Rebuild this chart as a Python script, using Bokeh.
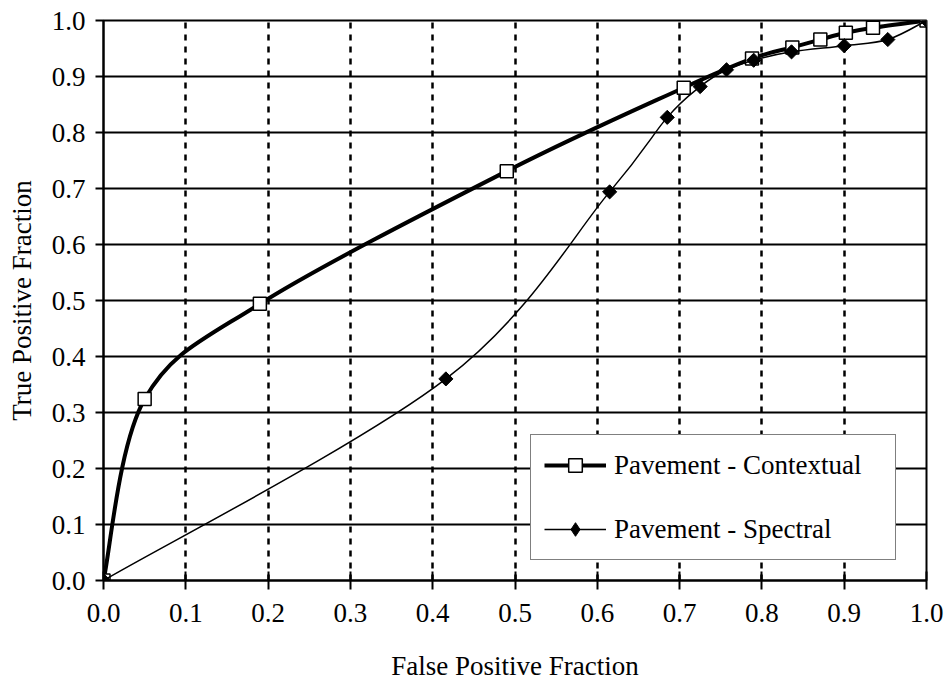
import numpy as np
from bokeh.plotting import figure
from bokeh.models import FixedTicker, NumeralTickFormatter, Legend, LegendItem, ColumnDataSource
from bokeh.embed import file_html
from bokeh.resources import INLINE

# Data
ctx_fp = [0.0, 0.050, 0.190, 0.490, 0.705, 0.788, 0.837, 0.871, 0.902, 0.935, 1.0]
ctx_tp = [0.0, 0.324, 0.494, 0.731, 0.880, 0.932, 0.952, 0.966, 0.978, 0.987, 1.0]
spc_fp = [0.0, 0.416, 0.615, 0.685, 0.725, 0.757, 0.790, 0.836, 0.900, 0.953, 1.0]
spc_tp = [0.0, 0.360, 0.694, 0.827, 0.882, 0.912, 0.929, 0.944, 0.955, 0.966, 1.0]
ticks = [round(i * 0.1, 1) for i in range(11)]

FONT = "'Liberation Serif', 'Times New Roman', serif"
FS = "27px"


def smooth_segments(xs, ys):
    """Bezier control points for a smoothed line through the points (Excel-like)."""
    x = np.asarray(xs, float)
    y = np.asarray(ys, float)
    n = len(x)
    xp = np.concatenate([[x[0]], x, [x[-1]]])
    yp = np.concatenate([[y[0]], y, [y[-1]]])
    d = dict(x0=[], y0=[], x1=[], y1=[], cx0=[], cy0=[], cx1=[], cy1=[])
    for i in range(n - 1):
        j = i + 1
        d["x0"].append(x[i]); d["y0"].append(y[i])
        d["x1"].append(x[i + 1]); d["y1"].append(y[i + 1])
        d["cx0"].append(x[i] + (xp[j + 1] - xp[j - 1]) / 6)
        d["cy0"].append(y[i] + (yp[j + 1] - yp[j - 1]) / 6)
        d["cx1"].append(x[i + 1] - (xp[j + 2] - xp[j]) / 6)
        d["cy1"].append(y[i + 1] - (yp[j + 2] - yp[j]) / 6)
    return ColumnDataSource(d)


p = figure(width=946, height=683, x_range=(0, 1), y_range=(0, 1),
           output_backend="svg", toolbar_location=None,
           min_border_left=103, min_border_right=20,
           min_border_top=20, min_border_bottom=102)
p.background_fill_color = "white"
p.border_fill_color = "white"
p.outline_line_color = "black"
p.outline_line_width = 2

# axes
for ax in (p.xaxis[0], p.yaxis[0]):
    ax.ticker = FixedTicker(ticks=ticks)
    ax.formatter = NumeralTickFormatter(format="0.0")
    ax.axis_line_color = "black"
    ax.axis_line_width = 2
    ax.major_tick_line_color = "black"
    ax.major_tick_line_width = 2
    ax.minor_tick_line_color = None
    ax.major_label_text_font = FONT
    ax.major_label_text_font_size = FS
    ax.major_label_text_color = "black"
    ax.axis_label_text_font = FONT
    ax.axis_label_text_font_size = FS
    ax.axis_label_text_font_style = "normal"
    ax.axis_label_text_color = "black"

p.xaxis.axis_label = "False Positive Fraction"
p.yaxis.axis_label = "True Positive Fraction"
p.xaxis.major_tick_in = 9
p.xaxis.major_tick_out = 9
p.yaxis.major_tick_in = 0
p.yaxis.major_tick_out = 8
p.xaxis.major_label_standoff = 14
p.yaxis.major_label_standoff = 10
p.xaxis.axis_label_standoff = 26
p.yaxis.axis_label_standoff = 12

# grids
p.xgrid.ticker = FixedTicker(ticks=ticks)
p.ygrid.ticker = FixedTicker(ticks=ticks)
p.xgrid.grid_line_color = "black"
p.xgrid.grid_line_width = 2.5
p.xgrid.grid_line_dash = "6 6"
p.ygrid.grid_line_color = "black"
p.ygrid.grid_line_width = 2

# Contextual series
src_c = smooth_segments(ctx_fp, ctx_tp)
r_c_line = p.bezier(x0="x0", y0="y0", x1="x1", y1="y1", cx0="cx0", cy0="cy0",
                    cx1="cx1", cy1="cy1", source=src_c, line_color="black", line_width=4)
r_c_pts = p.scatter(ctx_fp, ctx_tp, marker="square", size=13, fill_color="white",
                    line_color="black", line_width=1.5)

# Spectral series
src_s = smooth_segments(spc_fp, spc_tp)
r_s_line = p.bezier(x0="x0", y0="y0", x1="x1", y1="y1", cx0="cx0", cy0="cy0",
                    cx1="cx1", cy1="cy1", source=src_s, line_color="black", line_width=1.5)
# diamond markers (also give the legend its diamond swatch)
r_s_key = p.scatter(spc_fp, spc_tp, marker="diamond", size=12, fill_color="black",
                    line_color="black", line_width=1)
r_s_pts = p.scatter(spc_fp, spc_tp, marker="square", angle=np.pi / 4, size=10,
                    fill_color="black", line_color="black", line_width=1)

legend = Legend(items=[
    LegendItem(label="Pavement - Contextual", renderers=[r_c_line, r_c_pts]),
    LegendItem(label="Pavement - Spectral", renderers=[r_s_line, r_s_key]),
], location=(427, 20))
legend.label_text_font = FONT
legend.label_text_font_size = FS
legend.label_text_color = "black"
legend.border_line_color = "black"
legend.border_line_width = 1
legend.background_fill_color = "white"
legend.background_fill_alpha = 1
legend.glyph_width = 62
legend.glyph_height = 34
legend.label_height = 34
legend.label_width = 268
legend.label_standoff = 8
legend.spacing = 30
legend.padding = 13
legend.margin = 0
p.add_layout(legend, "center")

open("out.html", "w").write(file_html(p, INLINE))
